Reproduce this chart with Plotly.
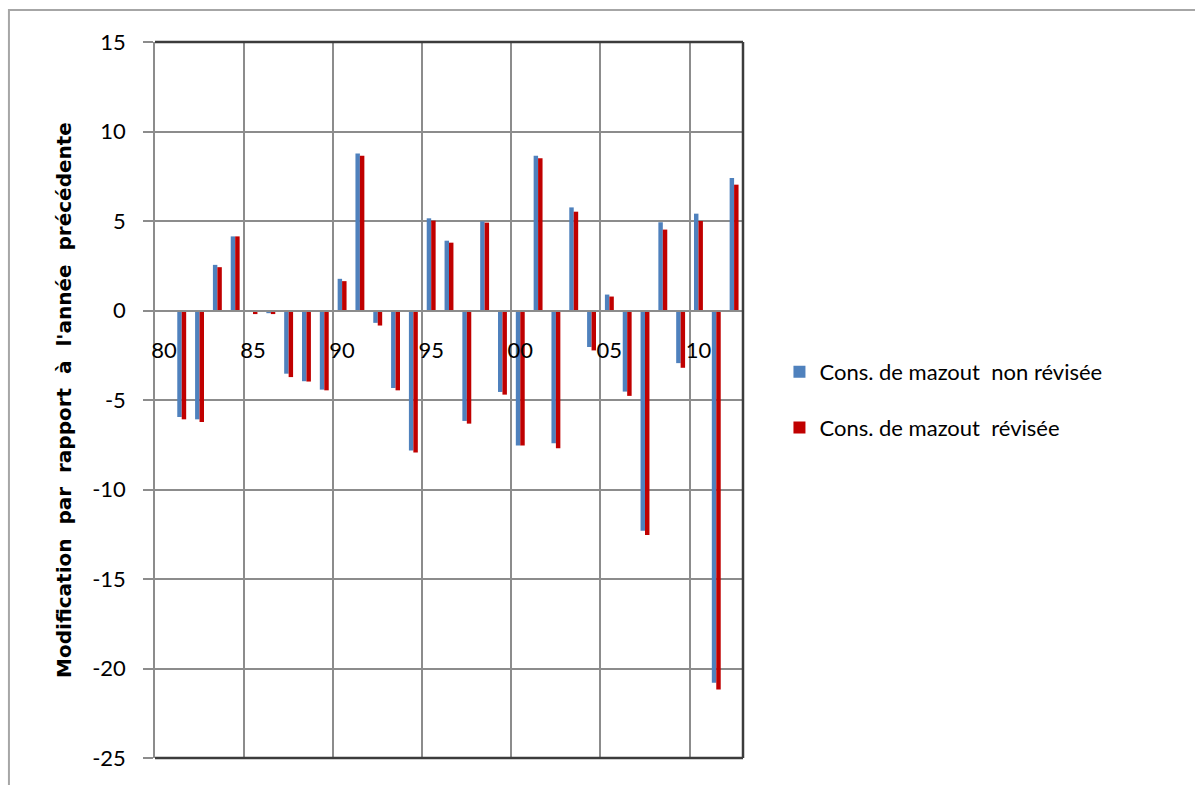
import plotly.graph_objects as go

# Years on the category axis (1980 has no change value)
years = list(range(1980, 2013))

# Change versus previous year, fuel-oil consumption
non_revisee = [None,
               -5.95, -6.08, 2.55, 4.14, -0.05, -0.15, -3.53, -3.95, -4.42,
               1.77, 8.77, -0.69, -4.33, -7.82, 5.15, 3.90, -6.17, 4.98, -4.55,
               -7.54, 8.64, -7.41, 5.76, -2.04, 0.89, -4.53, -12.30, 4.93, -2.94,
               5.41, -20.79, 7.40]
revisee = [None,
           -6.08, -6.23, 2.42, 4.14, -0.20, -0.20, -3.72, -3.97, -4.46,
           1.64, 8.64, -0.84, -4.46, -7.93, 5.02, 3.79, -6.32, 4.91, -4.70,
           -7.54, 8.51, -7.69, 5.52, -2.23, 0.78, -4.77, -12.54, 4.52, -3.20,
           5.00, -21.17, 7.03]

tick_years = [1980, 1985, 1990, 1995, 2000, 2005, 2010]
tick_text = ["80", "85", "90", "95", "00", "05", "10"]
grid_years = [1979.5, 1984.5, 1989.5, 1994.5, 1999.5, 2004.5, 2009.5]

y_ticks = [15, 10, 5, 0, -5, -10, -15, -20, -25]
y_tick_text = ["15", "10", "5", "0", "-5", "-10", "-15", "-20", "-25"]

y_min, y_max = -25, 15

GRID = "#8c8c8c"
FRAME = "#3c3c3c"
FONT = "Lato"

fig = go.Figure()
fig.add_trace(go.Bar(
    x=years, y=non_revisee, name="Cons. de mazout  non révisée",
    marker=dict(color="#4F81BD", line=dict(width=0)), legendgroup="a",
))
fig.add_trace(go.Bar(
    x=years, y=revisee, name="Cons. de mazout  révisée",
    marker=dict(color="#C00000", line=dict(width=0)), legendgroup="b",
))

zero_pos = (0 - y_min) / (y_max - y_min)

fig.update_layout(
    width=1195, height=785,
    margin=dict(l=155, r=452, t=42, b=27),
    paper_bgcolor="white", plot_bgcolor="white",
    barmode="group", bargap=0.5, bargroupgap=0.0,
    font=dict(family=FONT, size=22, color="#000000"),
    showlegend=True,
    legend=dict(
        x=1.062, xanchor="left", y=0.5, yanchor="middle",
        font=dict(family=FONT, size=22, color="#000000"),
        itemwidth=30, tracegroupgap=24, bgcolor="rgba(0,0,0,0)",
    ),
    xaxis=dict(
        type="linear", range=[1979.5, 2012.5],
        anchor="free", position=zero_pos,
        tickmode="array", tickvals=tick_years, ticktext=tick_text,
        ticks="", ticklabelstandoff=20,
        tickfont=dict(family=FONT, size=22, color="#000000"),
        showgrid=False, zeroline=False,
        showline=True, linecolor=GRID, linewidth=1.5,
        minor=dict(tickmode="array", tickvals=grid_years, showgrid=True,
                   gridcolor=GRID, gridwidth=1.5, ticks=""),
        fixedrange=True,
    ),
    yaxis=dict(
        range=[y_min, y_max], tickmode="array", tickvals=y_ticks, ticktext=y_tick_text,
        ticks="outside", ticklen=10, tickwidth=1.5, tickcolor=GRID,
        ticklabelstandoff=13,
        tickfont=dict(family=FONT, size=22, color="#000000"),
        showgrid=True, gridcolor=GRID, gridwidth=1.5,
        zeroline=True, zerolinecolor=GRID, zerolinewidth=1.5,
        showline=True, linecolor=GRID, linewidth=1.5,
        title=dict(text="<b>Modification  par  rapport  à  l'année  précédente</b>",
                   font=dict(family="DejaVu Sans", size=20, color="#000000"), standoff=15),
        automargin=False, fixedrange=True,
    ),
    shapes=[
        # dark frame on the top, right and bottom of the plot area
        dict(type="line", xref="paper", yref="paper", x0=0, x1=1, y0=1, y1=1,
             line=dict(color=FRAME, width=2.5)),
        dict(type="line", xref="paper", yref="paper", x0=1, x1=1, y0=0, y1=1,
             line=dict(color=FRAME, width=2.5)),
        dict(type="line", xref="paper", yref="paper", x0=0, x1=1, y0=0, y1=0,
             line=dict(color=FRAME, width=2.5)),
        # outer chart border
        dict(type="rect", xref="paper", yref="paper",
             x0=-0.2484, x1=2.0, y0=-0.3, y1=1.0447,
             line=dict(color="#a6a6a6", width=2), fillcolor="rgba(0,0,0,0)",
             layer="below"),
    ],
)

fig.write_html("out.html")
